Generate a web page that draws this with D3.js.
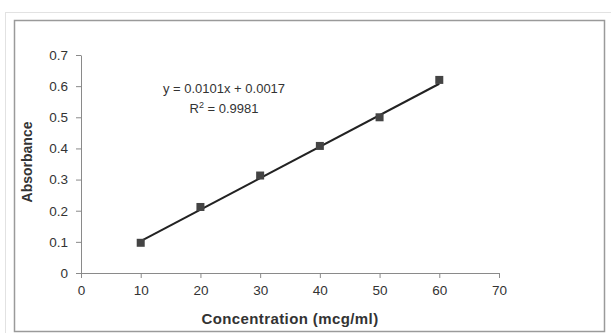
<!DOCTYPE html>
<html>
<head>
<meta charset="utf-8">
<script src="https://cdn.jsdelivr.net/npm/d3@7"></script>
<style>
  body { margin: 0; background: #fff; }
  svg { display: block; font-family: "Liberation Sans", Arial, sans-serif; }
</style>
</head>
<body>
<svg width="611" height="333"></svg>
<script>
// data
const concentrations = [10, 20, 30, 40, 50, 60];
const absorbances = [0.097, 0.212, 0.313, 0.408, 0.500, 0.620];
const xTicks = [0, 10, 20, 30, 40, 50, 60, 70];
const yTicks = [0, 0.1, 0.2, 0.3, 0.4, 0.5, 0.6, 0.7];
const slope = 0.0101;
const intercept = 0.0017;

const svg = d3.select("svg");

// outer light frame and chart area border
svg.append("rect")
    .attr("x", 5.5).attr("y", 12.5).attr("width", 610).attr("height", 330)
    .attr("fill", "none").attr("stroke", "#e2e2e2");
svg.append("rect")
    .attr("x", 14.5).attr("y", 20.5).attr("width", 590).attr("height", 311)
    .attr("fill", "#fff").attr("stroke", "#9a9a9a").attr("stroke-width", 1.5);

const x = d3.scaleLinear().domain([0, 70]).range([81, 499]);
const y = d3.scaleLinear().domain([0, 0.7]).range([273, 55]);

const xAxis = svg.append("g")
    .attr("transform", "translate(0,273)")
    .call(d3.axisBottom(x).tickValues(xTicks).tickSize(5).tickPadding(7).tickSizeOuter(0));
const yAxis = svg.append("g")
    .attr("transform", "translate(81,0)")
    .call(d3.axisLeft(y).tickValues(yTicks).tickSize(5).tickPadding(8).tickSizeOuter(0)
        .tickFormat(d => d === 0 ? "0" : d3.format(".1f")(d)));

[xAxis, yAxis].forEach(function (g) {
    g.select(".domain").attr("stroke", "#8a8a8a");
    g.selectAll(".tick line").attr("stroke", "#8a8a8a");
    g.selectAll("text").attr("fill", "#333").style("font-size", "13.5px")
        .style("font-family", "'Liberation Sans', Arial, sans-serif");
});

// axis titles
svg.append("text")
    .attr("x", 290).attr("y", 324)
    .attr("text-anchor", "middle")
    .style("font-size", "15px").style("font-weight", "bold").style("letter-spacing", "0.4px")
    .attr("fill", "#333")
    .text("Concentration (mcg/ml)");
svg.append("text")
    .attr("transform", "translate(32,162) rotate(-90)")
    .attr("text-anchor", "middle")
    .style("font-size", "14px").style("font-weight", "bold").attr("fill", "#333")
    .text("Absorbance");

// trend line
const xMin = d3.min(concentrations), xMax = d3.max(concentrations);
svg.append("line")
    .attr("x1", x(xMin)).attr("y1", y(slope * xMin + intercept))
    .attr("x2", x(xMax)).attr("y2", y(slope * xMax + intercept))
    .attr("stroke", "#222").attr("stroke-width", 2);

// markers
const points = concentrations.map((c, i) => ({c: c, a: absorbances[i]}));
svg.selectAll("rect.pt")
    .data(points)
    .join("rect")
    .attr("class", "pt")
    .attr("x", d => x(d.c) - 4).attr("y", d => y(d.a) - 4)
    .attr("width", 8).attr("height", 8)
    .attr("fill", "#444");

// equation label
const eq = svg.append("g").attr("fill", "#333").style("font-size", "13px");
eq.append("text")
    .attr("x", 224).attr("y", 93).attr("text-anchor", "middle")
    .text("y = 0.0101x + 0.0017");
const r2 = eq.append("text")
    .attr("x", 224).attr("y", 113).attr("text-anchor", "middle");
r2.append("tspan").text("R");
r2.append("tspan").attr("dy", -5).style("font-size", "9px").text("2");
r2.append("tspan").attr("dy", 5).text(" = 0.9981");
</script>
</body>
</html>
